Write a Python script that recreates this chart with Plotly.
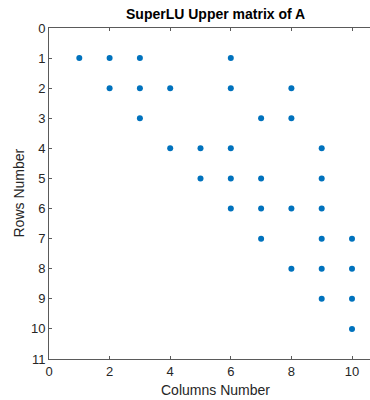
import plotly.graph_objects as go

# Nonzero entries of the SuperLU upper matrix (row, column)
rows = [1, 1, 1, 1,
        2, 2, 2, 2, 2,
        3, 3, 3,
        4, 4, 4, 4,
        5, 5, 5, 5,
        6, 6, 6, 6,
        7, 7, 7,
        8, 8, 8,
        9, 9,
        10]
cols = [1, 2, 3, 6,
        2, 3, 4, 6, 8,
        3, 7, 8,
        4, 5, 6, 9,
        5, 6, 7, 9,
        6, 7, 8, 9,
        7, 9, 10,
        8, 9, 10,
        9, 10,
        10]

x_ticks = [0, 2, 4, 6, 8, 10]
y_ticks = list(range(0, 12))

W, H = 370, 400
L, T, B, R = 49, 28, 41, 0
pw, ph = W - L - R, H - T - B
px_per_unit = 30.3
x_max = pw / px_per_unit

txt = "#262626"
axc = "#5a5a5a"
font = "Liberation Sans, Arial, sans-serif"

fig = go.Figure()
fig.add_trace(go.Scatter(
    x=cols, y=rows, mode="markers",
    marker=dict(color="#0072BD", size=6, line=dict(width=0)),
    hoverinfo="x+y", showlegend=False,
))

fig.update_layout(
    width=W, height=H,
    margin=dict(l=L, r=R, t=T, b=B, pad=0),
    paper_bgcolor="white", plot_bgcolor="white",
    font=dict(family=font, color=txt, size=13),
    xaxis=dict(
        range=[0, x_max], tickvals=x_ticks, ticks="inside", ticklen=3,
        tickcolor=axc, showline=True, linecolor=axc, linewidth=1,
        mirror="ticks", showgrid=False, zeroline=False,
        tickfont=dict(size=13, color=txt, family=font),
    ),
    yaxis=dict(
        range=[11, 0], tickvals=y_ticks, ticks="inside", ticklen=3,
        tickcolor=axc, showline=True, linecolor=axc, linewidth=1,
        showgrid=False, zeroline=False,
        tickfont=dict(size=13, color=txt, family=font),
    ),
    annotations=[
        dict(text="<b>SuperLU Upper matrix of A</b>", x=5.5, xref="x",
             y=1 + 14 / ph, yref="paper", xanchor="center", yanchor="middle",
             showarrow=False, font=dict(size=14, color="#000000", family=font)),
        dict(text="Columns Number", x=5.5, xref="x",
             y=-31 / ph, yref="paper", xanchor="center", yanchor="middle",
             showarrow=False, font=dict(size=14, color=txt, family=font)),
        dict(text="Rows Number", x=-31 / pw, xref="paper",
             y=0.5, yref="paper", xanchor="center", yanchor="middle",
             textangle=-90, showarrow=False,
             font=dict(size=14, color=txt, family=font)),
    ],
)

fig.write_html(
    "out.html",
    config={"displayModeBar": False},
    post_script="document.body.style.margin='0';document.body.style.overflow='hidden';",
)
